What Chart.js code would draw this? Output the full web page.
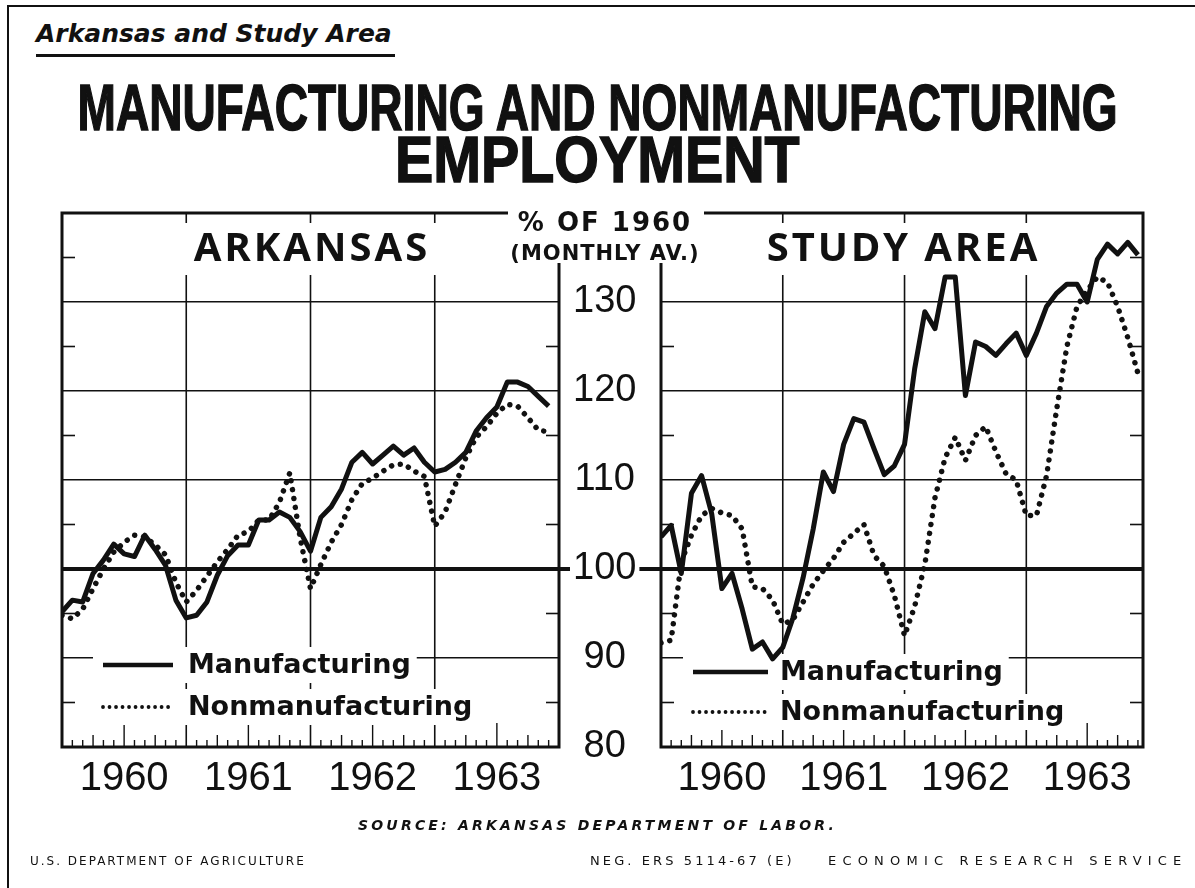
<!DOCTYPE html>
<html>
<head>
<meta charset="utf-8">
<title>Manufacturing and Nonmanufacturing Employment</title>
<script src="https://cdn.jsdelivr.net/npm/chart.js@4.4.1/dist/chart.umd.min.js"></script>
<style>
  html, body { margin: 0; padding: 0; background: #fff; }
  body { width: 1195px; height: 888px; position: relative; overflow: hidden; color: #111; }
  .abs { position: absolute; }
  #frameTop { left: 7px; top: 5px; width: 1188px; border-top: 2px solid #111; }
  #frameLeft { left: 7px; top: 5px; height: 883px; border-left: 2px solid #111; }
  #subtitle { left: 36px; top: 19px; font: italic bold 25px "DejaVu Sans"; border-bottom: 3px solid #111; padding: 0 3px 6px 0; white-space: nowrap; }
  .titleLine { left: -500px; width: 2195px; text-align: center; line-height: 1; white-space: nowrap; }
  .titleLine span { display: inline-block; font: bold 65px "Liberation Sans Narrow", "Liberation Sans"; -webkit-text-stroke: 1.5px #111; transform-origin: center; }
  #arkWrap { left: 0; top: 0; width: 661px; height: 888px; }
  #studyWrap { left: 657px; top: 0; width: 538px; height: 888px; }
  #unitBox { left: 508px; top: 203px; width: 196px; height: 60px; background: #fff; z-index: 5; }
  .unitLine { left: 480px; width: 250px; text-align: center; z-index: 6; white-space: nowrap; font-family: "DejaVu Sans"; font-weight: bold; }
  .foot { white-space: nowrap; font-family: "DejaVu Sans"; }
</style>
</head>
<body>
<div class="abs" id="frameTop"></div>
<div class="abs" id="frameLeft"></div>
<div class="abs" id="subtitle">Arkansas and Study Area</div>
<div class="abs titleLine" style="top:70px"><span id="t1">MANUFACTURING AND NONMANUFACTURING</span></div>
<div class="abs titleLine" style="top:122px"><span id="t2">EMPLOYMENT</span></div>

<div class="abs" id="arkWrap"><canvas id="arkChart"></canvas></div>
<div class="abs" id="studyWrap"><canvas id="studyChart"></canvas></div>

<div class="abs" id="unitBox"></div>
<div class="abs unitLine" style="top:208px; font-size:26px; letter-spacing:2px; line-height:28px">% OF 1960</div>
<div class="abs unitLine" style="top:242px; font-size:21px; letter-spacing:1px; line-height:22px">(MONTHLY AV.)</div>

<div class="abs foot" style="left:0; width:1195px; top:817px; text-align:center; font-size:14px; font-weight:bold; font-style:italic; letter-spacing:3.2px">SOURCE: ARKANSAS DEPARTMENT OF LABOR.</div>
<div class="abs foot" style="left:30px; top:854px; font-size:12px; letter-spacing:2px">U.S. DEPARTMENT OF AGRICULTURE</div>
<div class="abs foot" style="left:590px; top:853px; font-size:13px; letter-spacing:3.1px">NEG. ERS 5114-67 (E)</div>
<div class="abs foot" style="left:828px; top:853px; font-size:13px; letter-spacing:6.2px">ECONOMIC RESEARCH SERVICE</div>

<script>
const years = ["1960", "1961", "1962", "1963"];
const monthsPerYear = 12;
const yLabels = [80, 90, 100, 110, 120, 130];
const seriesNames = ["Manufacturing", "Nonmanufacturing"];

// % of 1960 monthly average, Jan 1960 .. Dec 1963
const arkansasMfg = [
  95.2, 96.5, 96.3, 99.5, 101, 102.8, 101.7, 101.4, 103.8, 102.2, 100.4, 96.5,
  94.5, 94.8, 96.3, 99.3, 101.5, 102.7, 102.7, 105.5, 105.5, 106.4, 105.8, 104.2,
  102, 105.8, 107, 109, 112, 113.1, 111.8, 112.8, 113.8, 112.8, 113.6, 112,
  110.9, 111.2, 112, 113.1, 115.5, 117, 118.2, 121, 121, 120.5, 119.4, 118.3,
];
const arkansasNonmfg = [
  94.8, 94.4, 95.5, 97.8, 100, 101.9, 103, 103.8, 103.6, 102.7, 101.6, 98.5,
  96.3, 97.6, 99.2, 100.8, 102.2, 103.8, 104.2, 105.5, 105.5, 107.5, 110.8, 103.5,
  97.8, 100.5, 103, 105, 107.8, 109.6, 110.2, 111, 111.7, 111.8, 111, 110.4,
  104.8, 106.4, 109.5, 112.5, 114.8, 116, 117.5, 118.5, 118.3, 117, 115.6, 115.4,
];
const studyMfg = [
  103.6, 104.9, 99.5, 108.5, 110.5, 106.2, 97.8, 99.5, 95.5, 91, 91.8, 89.9,
  91.2, 94.5, 99, 104.5, 110.9, 108.7, 114, 116.9, 116.5, 113.5, 110.6, 111.6,
  114, 122.5, 128.9, 127, 132.8, 132.8, 119.5, 125.5, 125, 124, 125.3, 126.5,
  124, 126.5, 129.5, 131, 132, 132, 130, 134.8, 136.5, 135.4, 136.7, 135.3,
];
const studyNonmfg = [
  91.7, 92, 100.8, 103.8, 106, 106.8, 106.3, 106, 104.5, 98, 97.8, 96.5,
  93.8, 94.3, 96.3, 98.3, 99.8, 101.2, 103, 104, 105, 101.5, 100.3, 97,
  92.5, 95.8, 100.5, 108, 112.5, 114.8, 112.2, 115, 116, 113.2, 110.7, 110,
  106, 106, 110.5, 118, 125, 129.5, 131.3, 132.8, 132.2, 129.5, 126, 122,
];

const ink = "#111";

// squeeze the heavy title lines to the width of the original lettering
function fitWidth(el, target) {
  el.style.transform = `scaleX(${target / el.offsetWidth})`;
}
function fitTitle() {
  fitWidth(document.getElementById("t1"), 1040);
  fitWidth(document.getElementById("t2"), 405);
}
fitTitle();
document.fonts.ready.then(fitTitle);

function toPoints(values) {
  return values.map((y, i) => ({ x: i, y }));
}

function buildDatasets(mfg, nonmfg) {
  return [
    {
      label: seriesNames[0],
      data: toPoints(mfg),
      borderColor: ink,
      borderWidth: 5,
      borderJoinStyle: "round",
      pointRadius: 0,
      tension: 0,
    },
    {
      label: seriesNames[1],
      data: toPoints(nonmfg),
      borderColor: ink,
      borderWidth: 5.5,
      borderDash: [0.01, 9],
      borderCapStyle: "round",
      pointRadius: 0,
      tension: 0,
    },
  ];
}

function strokeLine(ctx, x1, y1, x2, y2) {
  ctx.beginPath();
  ctx.moveTo(x1, y1);
  ctx.lineTo(x2, y2);
  ctx.stroke();
}

const panelDecor = {
  id: "panelDecor",
  beforeDatasetsDraw(chart, args, opts) {
    const { ctx, chartArea: a } = chart;
    const x = chart.scales.x;
    const y = chart.scales.y;
    ctx.save();
    ctx.strokeStyle = ink;

    // year boundaries
    ctx.lineWidth = 1.6;
    for (let k = 1; k < years.length; k++) {
      const px = x.getPixelForValue(k * monthsPerYear);
      strokeLine(ctx, px, a.top, px, a.bottom);
    }

    // month ticks along the bottom edge
    ctx.lineWidth = 1.4;
    for (let m = 1; m < x.max; m++) {
      if (m % monthsPerYear === 0) continue;
      const h = m % 6 === 0 ? 24 : m % 3 === 0 ? 12 : 7;
      const px = x.getPixelForValue(m);
      strokeLine(ctx, px, a.bottom, px, a.bottom - h);
    }

    // half-step ticks on both side edges
    ctx.lineWidth = 1.6;
    for (let v = y.min + 5; v < y.max; v += 10) {
      const py = y.getPixelForValue(v);
      strokeLine(ctx, a.left, py, a.left + 13, py);
      strokeLine(ctx, a.right, py, a.right - 13, py);
    }

    // panel name, with the grid cleared behind it
    ctx.font = "bold 40px 'Noto Sans'";
    ctx.letterSpacing = "3px";
    ctx.textAlign = "center";
    ctx.textBaseline = "middle";
    const cx = (a.left + a.right) / 2;
    const ty = a.top + 36;
    const tw = ctx.measureText(opts.title).width;
    ctx.fillStyle = "#fff";
    ctx.fillRect(cx - tw / 2 - 12, ty - 26, tw + 24, 52);
    ctx.fillStyle = ink;
    ctx.fillText(opts.title, cx + 1.5, ty + 1);
    ctx.letterSpacing = "0px";

    // clear the grid behind legend rows
    const lg = opts.legend;
    ctx.font = "bold 27px 'DejaVu Sans'";
    chart.data.datasets.forEach((ds, i) => {
      const rx = a.left + lg.left;
      const ry = a.bottom - lg.bottom + i * lg.rowGap;
      const w = lg.sample + lg.gap + ctx.measureText(ds.label).width;
      ctx.fillStyle = "#fff";
      ctx.fillRect(rx - 10, ry - 18, w + 16, 36);
    });
    ctx.restore();
  },
  afterDatasetsDraw(chart, args, opts) {
    const { ctx, chartArea: a } = chart;
    ctx.save();
    ctx.strokeStyle = ink;
    ctx.fillStyle = ink;

    // legend
    const lg = opts.legend;
    ctx.font = "bold 27px 'DejaVu Sans'";
    ctx.textAlign = "left";
    ctx.textBaseline = "middle";
    chart.data.datasets.forEach((ds, i) => {
      const rx = a.left + lg.left;
      const ry = a.bottom - lg.bottom + i * lg.rowGap;
      ctx.lineWidth = ds.borderDash ? 3.8 : 4.5;
      ctx.lineCap = ds.borderDash ? "round" : "butt";
      ctx.setLineDash(ds.borderDash ? [0.01, 6.5] : []);
      strokeLine(ctx, rx, ry, rx + lg.sample, ry);
      ctx.setLineDash([]);
      ctx.fillText(ds.label, rx + lg.sample + lg.gap, ry + 1);
    });

    // plot frame
    ctx.lineWidth = 3;
    ctx.lineCap = "butt";
    ctx.strokeRect(a.left, a.top, a.right - a.left, a.bottom - a.top);

    // the 100 line runs on through the middle scale
    if (opts.midLine) {
      const y = chart.scales.y;
      const py = y.getPixelForValue(100);
      ctx.font = "38px 'Liberation Sans'";
      const w = ctx.measureText("100").width;
      const cx = y.left + 14 + y._labelSizes.widest.width / 2;
      ctx.lineWidth = 4;
      strokeLine(ctx, a.right, py, cx - w / 2 - 3, py);
      strokeLine(ctx, cx + w / 2 + 3, py, chart.width, py);
    }
    ctx.restore();
  },
};

function xScale(maxValue) {
  return {
    type: "linear",
    min: 0,
    max: maxValue,
    grid: { display: false, drawTicks: false },
    border: { display: false },
    afterBuildTicks: (scale) => {
      scale.ticks = years.map((_, k) => ({ value: k * monthsPerYear + monthsPerYear / 2 }));
    },
    afterFit: (scale) => {
      scale.height = 60;
    },
    ticks: {
      autoSkip: false,
      maxRotation: 0,
      padding: 8,
      color: ink,
      font: { family: "Liberation Sans", size: 40 },
      callback: (value, index) => years[index],
    },
  };
}

function yScale(position, showLabels) {
  return {
    type: "linear",
    position,
    min: 80,
    max: 140,
    border: { display: false },
    grid: {
      color: ink,
      drawTicks: false,
      lineWidth: (c) => (c.tick && c.tick.value === 100 ? 4 : 1.6),
    },
    afterFit: (scale) => {
      scale.width = showLabels ? 102 : 0;
    },
    ticks: {
      display: showLabels,
      stepSize: 10,
      padding: 14,
      crossAlign: "center",
      color: ink,
      font: { family: "Liberation Sans", size: 38 },
      callback: (value) => (yLabels.includes(value) ? String(value) : ""),
    },
  };
}

function createPanel(canvasId, title, mfg, nonmfg, opts) {
  const ctx = document.getElementById(canvasId).getContext("2d");
  return new Chart(ctx, {
    type: "line",
    data: { datasets: buildDatasets(mfg, nonmfg) },
    options: {
      responsive: true,
      maintainAspectRatio: false,
      animation: false,
      layout: { padding: opts.padding },
      scales: {
        x: xScale(opts.xMax),
        y: yScale(opts.yPosition, opts.yLabels),
      },
      plugins: {
        legend: { display: false },
        tooltip: { enabled: false },
        panelDecor: {
          title,
          legend: opts.legend,
          midLine: opts.yLabels,
        },
      },
    },
    plugins: [panelDecor],
  });
}

createPanel("arkChart", "ARKANSAS", arkansasMfg, arkansasNonmfg, {
  padding: { left: 62, top: 213, right: 0, bottom: 81 },
  xMax: 48,
  yPosition: "right",
  yLabels: true,
  legend: { left: 41, bottom: 82, rowGap: 42, sample: 70, gap: 15 },
});

createPanel("studyChart", "STUDY AREA", studyMfg, studyNonmfg, {
  padding: { left: 4, top: 213, right: 52, bottom: 81 },
  xMax: 47.5,
  yPosition: "left",
  yLabels: false,
  legend: { left: 32, bottom: 75, rowGap: 40, sample: 75, gap: 12 },
});
</script>
</body>
</html>
